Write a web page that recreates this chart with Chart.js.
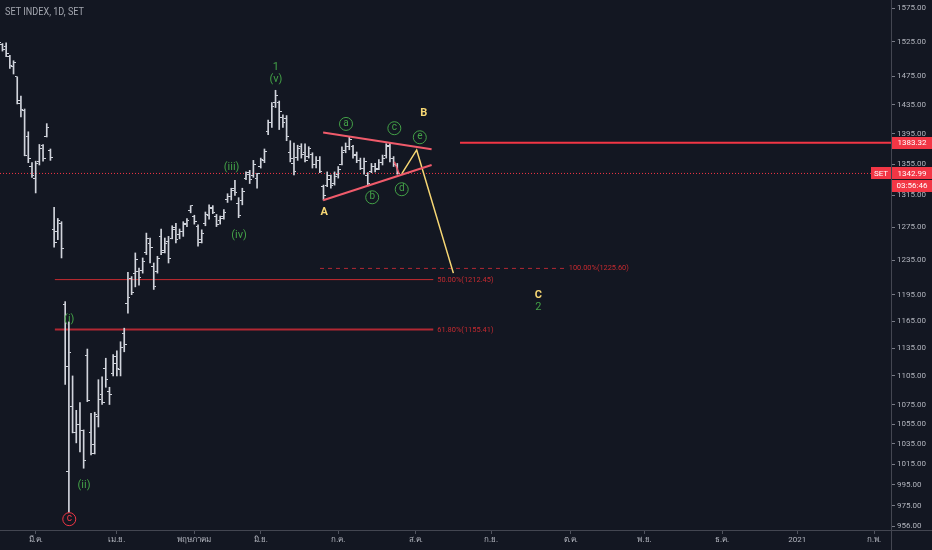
<!DOCTYPE html>
<html><head><meta charset="utf-8">
<script src="https://cdn.jsdelivr.net/npm/chart.js@4.4.0/dist/chart.umd.min.js"></script>
<style>html,body{margin:0;padding:0;background:#131722;overflow:hidden}</style>
</head><body>
<canvas id="c" width="932" height="550"></canvas>
<script>
// ---------- data ----------
const dates = ['2020-02-17','2020-02-18','2020-02-19','2020-02-20','2020-02-21','2020-02-24','2020-02-25','2020-02-26','2020-02-27','2020-02-28',
'2020-03-02','2020-03-03','2020-03-04','2020-03-05','2020-03-06','2020-03-09','2020-03-10','2020-03-11','2020-03-12','2020-03-13','2020-03-16','2020-03-17','2020-03-18','2020-03-19','2020-03-20','2020-03-23','2020-03-24','2020-03-25','2020-03-26','2020-03-27','2020-03-30','2020-03-31',
'2020-04-01','2020-04-02','2020-04-03','2020-04-07','2020-04-08','2020-04-09','2020-04-10','2020-04-13','2020-04-14','2020-04-15','2020-04-16','2020-04-17','2020-04-20','2020-04-21','2020-04-22','2020-04-23','2020-04-24','2020-04-27','2020-04-28','2020-04-29','2020-04-30',
'2020-05-05','2020-05-07','2020-05-08','2020-05-11','2020-05-12','2020-05-13','2020-05-14','2020-05-15','2020-05-18','2020-05-19','2020-05-20','2020-05-21','2020-05-22','2020-05-25','2020-05-26','2020-05-27','2020-05-28','2020-05-29',
'2020-06-01','2020-06-02','2020-06-04','2020-06-05','2020-06-08','2020-06-09','2020-06-10','2020-06-11','2020-06-12','2020-06-15','2020-06-16','2020-06-17','2020-06-18','2020-06-19','2020-06-22','2020-06-23','2020-06-24','2020-06-25','2020-06-26','2020-06-29','2020-06-30',
'2020-07-01','2020-07-02','2020-07-03','2020-07-07','2020-07-08','2020-07-09','2020-07-10','2020-07-13','2020-07-14','2020-07-15','2020-07-16','2020-07-17','2020-07-20','2020-07-21','2020-07-22','2020-07-23','2020-07-24'];

const openP = [1527,1520,1517,1503,1488,1474,1441,1427,1392,1352,
1336,1358,1379,1392,1373,1273,1270,1280,1184,1008,1073,1046,1054,1048,1127,1046,1034,1063,1085,1113,1089,1108,
1118,1112,1151,1185,1214,1220,1222,1223,1245,1255,1228,1222,1264,1247,1258,1262,1275,1266,1270,1280,1296,
1289,1276,1260,1280,1290,1298,1289,1283,1288,1310,1313,1324,1305,1308,1337,1342,1340,1336,
1352,1360,1398,1410,1438,1438,1418,1416,1370,1356,1364,1378,1370,1365,1368,1355,1360,1326,1328,1335,1330,
1341,1355,1373,1378,1378,1368,1360,1350,1340,1345,1352,1350,1357,1366,1380,1362,1353];
const highP = [1530,1522,1523,1505,1497,1474,1447,1429,1398,1357,
1359,1381,1381,1409,1375,1300,1286,1282,1187,1164,1105,1069,1077,1049,1134,1066,1067,1101,1104,1124,1093,1128,
1132,1142,1157,1221,1216,1244,1226,1238,1268,1262,1232,1240,1273,1262,1264,1277,1280,1273,1282,1286,1302,
1290,1278,1272,1294,1303,1302,1291,1289,1297,1317,1324,1334,1312,1324,1345,1347,1360,1343,
1363,1375,1414,1438,1455,1440,1421,1420,1386,1383,1380,1382,1382,1378,1370,1365,1365,1328,1345,1341,1345,
1352,1378,1383,1391,1380,1371,1363,1363,1344,1356,1356,1361,1367,1382,1383,1365,1356];
const lowP = [1523,1511,1503,1486,1478,1436,1418,1366,1357,1338,
1318,1354,1359,1391,1360,1251,1260,1238,1096,969,1046,1036,1027,1011,1078,1024,1025,1052,1075,1093,1075,1105,
1105,1105,1131,1174,1195,1204,1206,1220,1242,1232,1201,1220,1242,1244,1232,1261,1256,1261,1264,1276,1293,
1279,1252,1256,1277,1285,1292,1276,1279,1285,1306,1309,1315,1287,1303,1335,1330,1338,1324,
1350,1357,1394,1404,1431,1401,1404,1386,1358,1341,1360,1363,1358,1363,1350,1350,1344,1309,1326,1324,1328,
1337,1354,1370,1374,1363,1357,1348,1342,1327,1344,1345,1348,1354,1363,1358,1352,1342];
const closeP = [1524,1514,1508,1490,1494,1437,1428,1367,1362,1340.52,
1356,1375,1362,1404,1364,1256,1283,1249,1115,1130,1046,1054,1048,1019,1079,1025,1065,1080,1077,1101,1085,1126,
1113,1136,1139,1192,1198,1236,1215,1234,1262,1250,1204,1237,1245,1255,1237,1273,1260,1270,1278,1284,1301.66,
1282,1256,1268,1291,1300,1293,1278,1286,1294,1314,1321,1318,1290,1320,1344,1335,1355,1342.85,
1361,1372,1410,1432,1448,1425,1410,1392,1362,1346,1375,1368,1360,1375,1355,1360,1345,1315,1340,1328,1339.03,
1348,1370,1378,1388,1366,1360,1350,1358,1330,1352,1348,1357,1363,1378,1362,1354,1342.99];

// axis ticks (trading-day index of each month start) and labels
const monthTickIdx = [10, 32, 53, 71, 92, 113, 133.4, 155, 175, 196, 216.4, 237.2];
const monthTickLabels = ['มี.ค.','เม.ย.','พฤษภาคม','มิ.ย.','ก.ค.','ส.ค.','ก.ย.','ต.ค.','พ.ย.','ธ.ค.','2021','ก.พ.'];
const priceTicks = [956,975,995,1015,1035,1055,1075,1105,1135,1165,1195,1235,1275,1315,1355,1395,1435,1475,1525,1575];

// drawings (index, price)
const triangleUpper = [{x:87.9,y:1396.9},{x:117.3,y:1374.7}];
const triangleLower = [{x:87.9,y:1308.7},{x:117.3,y:1353.9}];
const waveCD = [{x:107.2,y:1358.3},{x:108.5,y:1342.7}];
const projectionPath = [{x:109.2,y:1342.5},{x:113.25,y:1373.7},{x:123.2,y:1220}];
const fibTexts = ['50.00%(1212.45)','61.80%(1155.41)','100.00%(1225.60)'];
const fibPrices = [1212.45, 1155.41, 1225.60];
const fibStartIdx = [15.2, 15.2, 87.05];
const fibEndIdx = [117.75, 117.75, 153.4];
const resistancePrice = 1383.32;
const resistanceStartIdx = 125;
const lastPrice = closeP[closeP.length-1];
const countdown = '03:56:46';

const greenLabels = [['1',75.1,1488],['(v)',75.1,1471],['(iii)',63.1,1350.5],['(iv)',65.1,1265.4],['(i)',19.1,1167],['(ii)',23.1,995],['2',146.2,1180.6]];
const yellowLabels = [['A',88.2,1293.7],['B',115.2,1423.2],['C',146.2,1194.7]];
const circledGreen = [['a',94.1,1408.6],['b',101.2,1312.5],['c',107.2,1402.8],['d',109.2,1322.7],['e',114.1,1390.6]];
const circledRed = [['c',19.1,962.6]];

// ---------- view ----------
const X_MIN = 0.33, X_MAX = 241.8, Y_MIN = 952.6, Y_MAX = 1587.2;
const BG = '#131722', BAR = '#d1d4dc', GREEN = '#43a047', YELLOW = '#f7d774', PINK = '#f05b6b', DRED = '#b22833', FIBRED = '#c62a30', RED = '#f23645';
const FONT = "Roboto, 'Noto Sans', 'DejaVu Sans', sans-serif";

function tickImg(side){
  const c = document.createElement('canvas'); c.width = 5; c.height = 1;
  const g = c.getContext('2d'); g.fillStyle = BAR; g.fillRect(side < 0 ? 0 : 3, 0, 2, 1);
  return c;
}
const idx = dates.map((d,i)=>i);
const rangeData = idx.map(i => ({x:i, y:[lowP[i], highP[i]]}));
const openData = idx.map(i => ({x:i, y:openP[i]}));
const closeData = idx.map(i => ({x:i, y:closeP[i]}));

function lineDs(data, color, width, dash, order){
  return {type:'line', data, borderColor:color, borderWidth:width, borderDash:dash||[], pointRadius:0, pointHoverRadius:0, fill:false, tension:0, order:order||0};
}
const datasets = [
  {type:'bar', data:rangeData, backgroundColor:BAR, barThickness:1, order:2},
  {type:'line', data:openData, showLine:false, pointStyle:tickImg(-1), pointRadius:2, pointHoverRadius:0, order:1},
  {type:'line', data:closeData, showLine:false, pointStyle:tickImg(1), pointRadius:2, pointHoverRadius:0, order:1},
  lineDs([{x:X_MIN,y:lastPrice},{x:X_MAX,y:lastPrice}], RED, 1, [1,2], 9),
  lineDs([{x:resistanceStartIdx,y:resistancePrice},{x:X_MAX,y:resistancePrice}], RED, 2),
  lineDs([{x:fibStartIdx[0],y:fibPrices[0]},{x:fibEndIdx[0],y:fibPrices[0]}], FIBRED, 1, [], 9),
  lineDs([{x:fibStartIdx[1],y:fibPrices[1]},{x:fibEndIdx[1],y:fibPrices[1]}], DRED, 2, [], 9),
  lineDs([{x:fibStartIdx[2],y:fibPrices[2]},{x:fibEndIdx[2],y:fibPrices[2]}], DRED, 1, [4,4], 9),
  lineDs(triangleUpper, PINK, 2),
  lineDs(triangleLower, PINK, 2),
  lineDs(waveCD, PINK, 1.5),
  lineDs(projectionPath, YELLOW, 1.5)
];

const bgPlugin = {id:'bg', beforeDraw(chart){const c=chart.ctx; c.save(); c.fillStyle=BG; c.fillRect(0,0,chart.width,chart.height); c.restore();}};

const annotPlugin = {
  id:'annot',
  afterDatasetsDraw(chart){
    const {ctx, scales:{x,y}} = chart;
    const px = v => x.getPixelForValue(v), py = v => y.getPixelForValue(v);
    ctx.save();
    ctx.textAlign = 'center'; ctx.textBaseline = 'middle';
    ctx.font = '11px ' + FONT; ctx.fillStyle = GREEN;
    greenLabels.forEach(([t,i,p]) => ctx.fillText(t, px(i), py(p)));
    ctx.font = 'bold 11px ' + FONT; ctx.fillStyle = YELLOW;
    yellowLabels.forEach(([t,i,p]) => ctx.fillText(t, px(i), py(p)));
    const circ = (list, color) => list.forEach(([t,i,p]) => {
      const cx = px(i), cy = py(p);
      ctx.beginPath(); ctx.arc(cx, cy, 6.5, 0, Math.PI*2); ctx.strokeStyle = color; ctx.lineWidth = 1; ctx.stroke();
      ctx.font = '10px ' + FONT; ctx.fillStyle = color; ctx.fillText(t, cx, cy - 0.5);
    });
    circ(circledGreen, GREEN);
    circ(circledRed, RED);
    // fib labels
    ctx.textAlign = 'left'; ctx.font = '8px ' + FONT; ctx.fillStyle = FIBRED;
    fibTexts.forEach((t,k) => ctx.fillText(t, px(fibEndIdx[k]) + 4, py(fibPrices[k]), t.length*3.75));
    // title
    ctx.font = '10px ' + FONT; ctx.fillStyle = '#a3a6af';
    ctx.fillText('SET INDEX, 1D, SET', 5, 12, 79);
    ctx.restore();
  },
  afterDraw(chart){
    const {ctx, chartArea:a, scales:{y}} = chart;
    ctx.save();
    ctx.strokeStyle = '#434651'; ctx.lineWidth = 1;
    ctx.beginPath(); ctx.moveTo(Math.round(a.right)+0.5, 0); ctx.lineTo(Math.round(a.right)+0.5, chart.height);
    ctx.moveTo(0, Math.round(a.bottom)+0.5); ctx.lineTo(chart.width, Math.round(a.bottom)+0.5); ctx.stroke();
    const box = (x0, w, cy, text) => {
      ctx.fillStyle = RED; ctx.fillRect(x0, Math.round(cy-6), w, 12);
      ctx.fillStyle = '#ffffff'; ctx.font = '8px ' + FONT; ctx.textBaseline = 'middle';
      ctx.textAlign = 'center'; ctx.fillText(text, x0 + w/2, cy + 0.5);
    };
    const r = a.right + 1;
    box(r, chart.width - r, y.getPixelForValue(resistancePrice), resistancePrice.toFixed(2));
    const ly = y.getPixelForValue(lastPrice);
    box(r, chart.width - r, ly, lastPrice.toFixed(2));
    box(a.right - 20, 20, ly, 'SET');
    box(r, chart.width - r, ly + 12.5, countdown);
    ctx.restore();
  }
};

new Chart(document.getElementById('c'), {
  type:'bar',
  data:{datasets},
  options:{
    responsive:false, animation:false, events:[],
    layout:{padding:0, autoPadding:false},
    plugins:{legend:{display:false}, tooltip:{enabled:false}},
    scales:{
      x:{type:'linear', min:X_MIN, max:X_MAX, offset:false,
        afterBuildTicks: s => { s.ticks = monthTickIdx.map(v => ({value:v})); },
        afterFit: s => { s.height = 20; s.paddingLeft = 0; s.paddingRight = 0; },
        ticks:{autoSkip:false, maxRotation:0, color:'#b2b5be', font:{size:8, family:FONT}, padding:1,
          callback:(v,i) => monthTickLabels[i]},
        grid:{drawOnChartArea:false, tickLength:4, color:'#50535e', offset:false},
        border:{color:'#434651'}
      },
      y:{type:'logarithmic', position:'right', min:Y_MIN, max:Y_MAX,
        afterBuildTicks: s => { s.ticks = priceTicks.map(v => ({value:v})); },
        afterFit: s => { s.width = 41; s.paddingTop = 0; s.paddingBottom = 0; },
        ticks:{autoSkip:false, color:'#b2b5be', font:{size:8, family:FONT}, padding:2,
          callback: v => Number(v).toFixed(2)},
        grid:{drawOnChartArea:false, tickLength:4, color:'#787b86'},
        border:{color:'#434651'}
      }
    }
  },
  plugins:[bgPlugin, annotPlugin]
});
</script>
</body></html>
